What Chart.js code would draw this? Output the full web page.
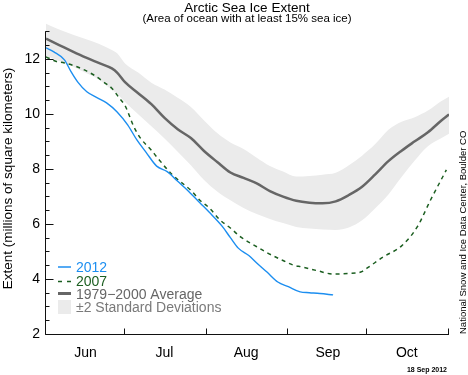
<!DOCTYPE html>
<html>
<head>
<meta charset="utf-8">
<style>
  html, body { margin: 0; padding: 0; background: #fff; }
</style>
</head>
<body>
<canvas id="iceChart" width="468" height="375"></canvas>
<script src="https://cdn.jsdelivr.net/npm/chart.js@4.4.1/dist/chart.umd.min.js"></script>
<script>
// x values are days counted from 1 June
var monthNames = ['Jun', 'Jul', 'Aug', 'Sep', 'Oct'];
var monthMids = [15, 45, 76, 107, 137];
var monthStarts = [0, 30, 61, 92, 122, 153];
var yTickValues = [2, 4, 6, 8, 10, 12];

var days2012 = [0, 3, 7, 9.5, 12, 15.5, 19.5, 23, 27, 31, 34.5, 38, 42, 46, 50, 54, 58.5, 62, 67, 70, 73, 77, 80, 84, 88, 92, 96.5, 100, 104, 109];
var ice2012 = [12.4, 12.25, 11.96, 11.53, 11.16, 10.8, 10.58, 10.4, 10.07, 9.6, 9.05, 8.6, 8.1, 7.9, 7.55, 7.2, 6.76, 6.42, 5.9, 5.5, 5.12, 4.85, 4.58, 4.24, 3.89, 3.72, 3.53, 3.5, 3.47, 3.42];

var days2007 = [0, 4, 7, 12, 18, 22, 25, 28, 30, 33.5, 36, 40, 42, 48, 55, 58.5, 62, 66, 70, 74, 80, 84, 90, 94, 97, 103, 109, 115, 119.5, 122, 128, 135, 141, 146, 152];
var ice2007 = [12.07, 11.9, 11.85, 11.7, 11.42, 11.15, 10.93, 10.55, 10.3, 9.5, 9.1, 8.68, 8.44, 7.78, 7.22, 6.85, 6.58, 6.15, 5.85, 5.52, 5.17, 4.95, 4.67, 4.5, 4.44, 4.3, 4.18, 4.2, 4.25, 4.4, 4.8, 5.2, 5.9, 6.87, 7.96];

var daysAvg = [0, 5, 10, 15, 20, 25, 27, 30, 35, 40, 45, 50, 55, 60, 65, 70, 75, 80, 85, 90, 95, 100, 105, 110, 115, 120, 125, 130, 135, 140, 145, 150, 153];
var iceAvg = [12.73, 12.5, 12.27, 12.05, 11.85, 11.65, 11.5, 11.15, 10.75, 10.35, 9.85, 9.44, 9.12, 8.65, 8.25, 7.87, 7.67, 7.47, 7.19, 6.99, 6.84, 6.77, 6.75, 6.82, 7.05, 7.35, 7.8, 8.28, 8.66, 9.0, 9.33, 9.75, 9.98];
var iceUpper = [13.27, 13.06, 12.88, 12.72, 12.55, 12.32, 12.2, 11.83, 11.5, 11.13, 10.88, 10.58, 10.25, 9.76, 9.3, 8.96, 8.72, 8.4, 8.1, 7.9, 7.72, 7.74, 7.79, 7.86, 8.13, 8.48, 8.9, 9.42, 9.71, 9.88, 10.12, 10.46, 10.62];
var iceLower = [12.1, 11.92, 11.73, 11.49, 11.25, 10.87, 10.73, 10.43, 9.98, 9.55, 9.1, 8.62, 8.13, 7.6, 7.18, 6.86, 6.58, 6.36, 6.18, 6.03, 5.89, 5.83, 5.8, 5.78, 5.87, 6.13, 6.57, 7.07, 7.7, 8.3, 8.82, 9.11, 9.28];

var blue = '#1c8ef0';
var green = '#1b5e20';
var avgGray = '#666666';
var bandGray = '#ebebeb';
var fontFamily = '"Liberation Sans", Arial, Helvetica, sans-serif';

function pairs(xs, ys) {
    return xs.map(function (x, i) { return { x: x, y: ys[i] }; });
}

// axis lines, inward ticks, titles, legend and credits
var decorations = {
    id: 'decorations',
    afterDraw: function (chart) {
        var ctx = chart.ctx;
        var xs = chart.scales.x;
        var ys = chart.scales.y;
        var x0 = Math.round(xs.getPixelForValue(0)) - 0.5;
        var y0 = Math.round(ys.getPixelForValue(2)) + 0.5;
        var xEnd = xs.getPixelForValue(153);
        var yTop = ys.getPixelForValue(13);

        ctx.save();
        ctx.strokeStyle = '#111';
        ctx.lineWidth = 1;
        ctx.beginPath();
        ctx.moveTo(x0, yTop);
        ctx.lineTo(x0, y0);
        ctx.lineTo(xEnd, y0);
        for (var v = 2; v <= 13; v += 0.5) {
            var py = Math.round(ys.getPixelForValue(v)) + 0.5;
            ctx.moveTo(x0, py);
            ctx.lineTo(x0 + (v % 2 === 0 ? 8 : 4), py);
        }
        monthStarts.forEach(function (d) {
            var px = Math.round(xs.getPixelForValue(d)) - 0.5;
            ctx.moveTo(px, y0);
            ctx.lineTo(px, y0 - 6);
        });
        ctx.stroke();

        // titles
        ctx.fillStyle = '#000';
        ctx.textAlign = 'center';
        ctx.textBaseline = 'alphabetic';
        ctx.font = '13.5px ' + fontFamily;
        ctx.fillText('Arctic Sea Ice Extent', 247, 12);
        ctx.font = '11.5px ' + fontFamily;
        ctx.fillText('(Area of ocean with at least 15% sea ice)', 247, 21.5);

        // legend
        ctx.font = '14px ' + fontFamily;
        ctx.textAlign = 'left';
        ctx.lineWidth = 1.5;
        ctx.strokeStyle = blue;
        ctx.beginPath();
        ctx.moveTo(58, 267); ctx.lineTo(71, 267);
        ctx.stroke();
        ctx.fillStyle = blue;
        ctx.fillText('2012', 76, 272);

        ctx.strokeStyle = green;
        ctx.setLineDash([4, 5]);
        ctx.beginPath();
        ctx.moveTo(58, 281.5); ctx.lineTo(71, 281.5);
        ctx.stroke();
        ctx.setLineDash([]);
        ctx.fillStyle = green;
        ctx.fillText('2007', 76, 285.5);

        ctx.strokeStyle = avgGray;
        ctx.lineWidth = 3;
        ctx.beginPath();
        ctx.moveTo(58, 293.5); ctx.lineTo(71, 293.5);
        ctx.stroke();
        ctx.fillStyle = avgGray;
        ctx.fillText('1979\u22122000 Average', 76, 298.5);

        ctx.fillStyle = bandGray;
        ctx.fillRect(58, 300, 13, 14);
        ctx.fillStyle = '#7a7a7a';
        ctx.fillText('\u00b12 Standard Deviations', 76, 312);

        // credits
        ctx.fillStyle = '#000';
        ctx.font = 'bold 7px ' + fontFamily;
        ctx.textAlign = 'right';
        ctx.fillText('18 Sep 2012', 447, 372);

        ctx.translate(466, 334);
        ctx.rotate(-Math.PI / 2);
        ctx.textAlign = 'left';
        ctx.font = '9.5px ' + fontFamily;
        ctx.fillText('National Snow and Ice Data Center, Boulder CO', 0, 0);
        ctx.restore();
    }
};

var ctx = document.getElementById('iceChart').getContext('2d');
var iceChart = new Chart(ctx, {
    type: 'line',
    data: {
        datasets: [
            {
                label: '2012',
                data: pairs(days2012, ice2012),
                borderColor: blue,
                borderWidth: 1.4,
                pointRadius: 0,
                fill: false,
                cubicInterpolationMode: 'monotone'
            },
            {
                label: '2007',
                data: pairs(days2007, ice2007),
                borderColor: green,
                borderWidth: 1.5,
                borderDash: [4, 4],
                pointRadius: 0,
                fill: false,
                cubicInterpolationMode: 'monotone'
            },
            {
                label: '1979\u22122000 Average',
                data: pairs(daysAvg, iceAvg),
                borderColor: avgGray,
                borderWidth: 2.5,
                pointRadius: 0,
                fill: false,
                cubicInterpolationMode: 'monotone'
            },
            {
                label: '+2 SD',
                data: pairs(daysAvg, iceUpper),
                borderWidth: 0,
                borderColor: 'rgba(0,0,0,0)',
                backgroundColor: bandGray,
                pointRadius: 0,
                fill: '+1',
                cubicInterpolationMode: 'monotone'
            },
            {
                label: '-2 SD',
                data: pairs(daysAvg, iceLower),
                borderWidth: 0,
                borderColor: 'rgba(0,0,0,0)',
                pointRadius: 0,
                fill: false,
                cubicInterpolationMode: 'monotone'
            }
        ]
    },
    options: {
        responsive: false,
        animation: false,
        devicePixelRatio: 1,
        layout: {
            padding: { left: 0, right: 19, top: 23, bottom: 0 }
        },
        plugins: {
            legend: { display: false },
            tooltip: { enabled: false }
        },
        scales: {
            x: {
                type: 'linear',
                min: 0,
                max: 153,
                grid: { display: false, drawTicks: false },
                border: { display: false },
                afterBuildTicks: function (scale) {
                    scale.ticks = monthMids.map(function (d) { return { value: d }; });
                },
                afterFit: function (scale) { scale.height = 41; },
                ticks: {
                    autoSkip: false,
                    maxRotation: 0,
                    padding: 11,
                    color: '#000',
                    font: { family: fontFamily, size: 14 },
                    callback: function (value) {
                        return monthNames[monthMids.indexOf(value)];
                    }
                }
            },
            y: {
                type: 'linear',
                min: 2,
                max: 13.3,
                grid: { display: false, drawTicks: false },
                border: { display: false },
                afterBuildTicks: function (scale) {
                    scale.ticks = yTickValues.map(function (v) { return { value: v }; });
                },
                afterFit: function (scale) { scale.width = 46; },
                ticks: {
                    padding: 6,
                    color: '#000',
                    font: { family: fontFamily, size: 14 }
                },
                title: {
                    display: true,
                    text: 'Extent (millions of square kilometers)',
                    color: '#000',
                    padding: 0,
                    font: { family: fontFamily, size: 13.5 }
                }
            }
        }
    },
    plugins: [decorations]
});
</script>
</body>
</html>
